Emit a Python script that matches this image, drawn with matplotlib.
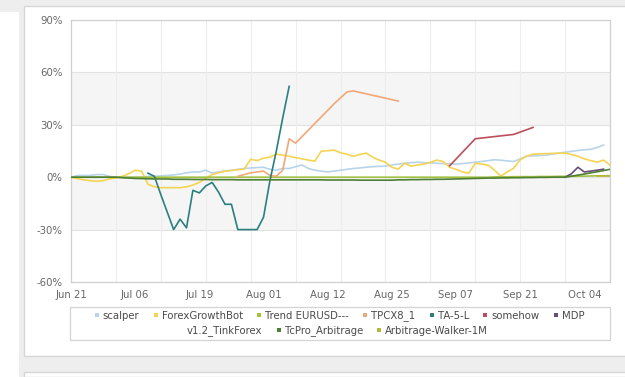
import numpy as np
import matplotlib.pyplot as plt
from matplotlib.lines import Line2D
from matplotlib.patches import Rectangle

# category axis: one point per trading day, labels every 10th day
n_days = 85
tick_labels = ["Jun 21", "Jul 06", "Jul 19", "Aug 01", "Aug 12",
               "Aug 25", "Sep 07", "Sep 21", "Oct 04"]
nan = np.nan

scalper = [0, 1, 1, 1, 1.5, 1.5, 0.5, 0, 0, 0, 0, 0, 0.5, 0.5, 0.8, 1, 1.3, 1.8, 2.5, 3,
           3, 4, 2.3, 3, 3.5, 4, 4.5, 5, 5.3, 5.5, 5.7, 4.5, 4, 5, 5, 6, 7, 5, 4, 3.5,
           3, 3.5, 4, 4.5, 5, 5.3, 5.7, 6, 6.2, 6.3, 7, 7.5, 8, 8.3, 8.6, 8.3, 8.2, 8, 7.8, 7.6,
           7.5, 7.8, 8.2, 8.6, 9, 9.5, 10, 9.7, 9.3, 9, 10.5, 12, 12.2, 12.4, 12.6, 13.2, 13.8, 14.3, 14.8, 15.3,
           15.7, 16, 17, 18.4, nan]

forex_growth = [0, -0.8, -1.5, -2, -2.3, -2, -1, -0.5, 0.5, 2, 4, 3.5, -4, -5.5, -6, -6, -6, -6, -5.5, -4.5,
                -3, -0.6, 1.5, 2.5, 3.4, 3.8, 4.3, 4.6, 10.3, 9.5, 10.9, 11.5, 13.2, 12.6, 12, 11.2, 10.5, 9.8, 9.2, 14.9,
                15.2, 15.5, 14, 13.2, 12, 13, 13.8, 11.5, 9.8, 8.6, 5.7, 4.6, 8, 6.3, 7, 7.5, 8.5, 9.8, 9, 5.7,
                4.5, 3, 2.3, 8, 7.5, 6.9, 4, 0.6, 3, 5.2, 10, 12, 13.2, 13.3, 13.5, 13.6, 13.7, 13.8, 13, 12,
                10.5, 9.5, 8.6, 9.8, 6.9]

trend_eurusd = [0, 0, 0, 0, 0, 0, 0, 0, 0, 0, 0, 0, 0, 0, 0, 0, 0, 0, 0, 0,
                0, 0, 0, 0, 0, 0, 0, 0, 0, 0, 0, 0, 0, 0, 0, 0, 0, 0, 0, 0,
                0, 0, 0, 0, 0, 0, 0, 0, 0, 0, 0, 0, 0, 0, 0, 0, 0, 0, 0, 0,
                0, 0, 0, 0, 0, 0, 0.2, 0.2, 0.2, 0.3, 0.3, 0.3, 0.3, 0.4, 0.4, 0.4, 0.5, 0.5, 0.5, 0.6,
                0.6, 0.7, 0.8, 0.8, 0.9]

tpcx8_1 = [nan] * 26 + [0.5, 1.5, 2.5, 3, 3.5, 1, 0.5, 4, 22, 19.5,
                        nan, nan, nan, nan, nan, 42, nan, 48.8, 49.4, nan,
                        nan, nan, nan, nan, nan, 43.6] + [nan] * 33

ta_5_l = [nan] * 12 + [2.3, 0.5, -10, -20, -30, -24, -29, -7.5, -9, -5,
                       -3, -8.6, -15.5, -15.5, -30, -30, -30, -30, -23, -2,
                       15, 34, 52] + [nan] * 50

somehow = [nan] * 59 + [6.5, nan, nan, nan, 22, nan, nan, nan, nan, nan,
                        24.5, nan, nan, 28.5] + [nan] * 12

mdp = [nan] * 77 + [0, 2, 5.7, 3, 3.5, 4, 4.6, nan]

tcpro_arbitrage = [0, 0, 0, 0, 0, 0, 0, 0, -0.3, -0.5, -0.7, -0.8, -0.9, -1, -1, -1, -1.2, -1.2, -1.2, -1.3,
                   -1.3, -1.3, -1.4, -1.4, -1.4, -1.4, -1.5, -1.5, -1.5, -1.5, -1.5, -1.5, -1.5, -1.5, -1.5, -1.5, -1.5, -1.5, -1.5, -1.5,
                   -1.6, -1.6, -1.6, -1.6, -1.6, -1.7, -1.7, -1.7, -1.7, -1.7, -1.7, -1.5, -1.5, -1.4, -1.4, -1.3, -1.3, -1.2, -1.2, -1.1,
                   -1, -0.9, -0.8, -0.7, -0.6, -0.5, -0.5, -0.4, -0.4, -0.3, -0.3, -0.2, -0.2, -0.1, -0.1, 0, 0, 0, 0.6, 1.2,
                   1.8, 2.5, 3.1, 3.8, 4.5]

walker_1m = [nan] * 82 + [0.5, 0.5, 0.5]

series = [
    ("scalper", scalper, "#b8d4ea"),
    ("ForexGrowthBot", forex_growth, "#f4d452"),
    ("Trend EURUSD---", trend_eurusd, "#a2c040"),
    ("TPCX8_1", tpcx8_1, "#f0a878"),
    ("TA-5-L", ta_5_l, "#2b7f7f"),
    ("somehow", somehow, "#b9505c"),
    ("MDP", mdp, "#6a4c78"),
    ("v1.2_TinkForex", [nan] * n_days, "#ffffff"),
    ("TcPro_Arbitrage", tcpro_arbitrage, "#4f7f35"),
    ("Arbitrage-Walker-1M", walker_1m, "#b5b83a"),
]

fig = plt.figure(figsize=(6.25, 3.77), dpi=100)
fig.patch.set_facecolor("#eeeeee")

# page panels
fig.add_artist(Rectangle((0, 0), 19 / 625, 1 - 12 / 377, transform=fig.transFigure,
                         facecolor="white", edgecolor="none", zorder=0))
fig.add_artist(Rectangle((24 / 625, 1 - 356 / 377), 1, 350 / 377, transform=fig.transFigure,
                         facecolor="white", edgecolor="#d6d6d6", lw=1, zorder=0))
fig.add_artist(Rectangle((24 / 625, 0), 1, 5 / 377, transform=fig.transFigure,
                         facecolor="white", edgecolor="#d6d6d6", lw=1, zorder=0))

ax = fig.add_axes([71 / 625, 1 - 282 / 377, 539 / 625, 262 / 377])
ax.set_facecolor("white")

# bands and grid
for lo, hi in [(30, 60), (-30, 0)]:
    ax.axhspan(lo, hi, color="#f5f5f5", zorder=0, lw=0)
for y in range(-60, 91, 30):
    ax.axhline(y, color="#e2e2e2", lw=0.8, zorder=1)
for x in range(7, n_days, 7):
    ax.axvline(x, color="#ededed", lw=0.8, zorder=1)

x_all = np.arange(n_days)
for name, vals, color in series:
    v = np.array(vals, dtype=float)
    ok = ~np.isnan(v)
    if ok.any():
        ax.plot(x_all[ok], v[ok], color=color, lw=1.2, zorder=3)

ax.set_xlim(0, n_days - 1)
ax.set_ylim(-60, 90)
ax.set_yticks(range(-60, 91, 30))
ax.set_yticklabels([f"{t}%" for t in range(-60, 91, 30)])
ax.set_xticks(range(0, n_days, 10))
ax.set_xticklabels(tick_labels)
ax.tick_params(length=0, labelsize=7.3, colors="#666666", pad=6)
for s in ax.spines.values():
    s.set_color("#d0d0d0")
    s.set_linewidth(0.9)

# legend box
fig.add_artist(Rectangle((70 / 625, 1 - 340 / 377), 540 / 625, 33 / 377, transform=fig.transFigure,
                         facecolor="white", edgecolor="#d4d4d4", lw=0.9, zorder=2))

def handles(items):
    return [Line2D([], [], marker="s", markersize=3, linestyle="none",
                   color=c, markeredgewidth=0) for _, _, c in items]

row1 = series[:7]
row2 = series[7:]
leg1 = fig.legend(handles(row1), [s[0] for s in row1], loc="center",
                  bbox_to_anchor=(339 / 625, 1 - 316 / 377), ncol=7, frameon=False,
                  fontsize=7.3, handlelength=0.6, handletextpad=0.3, columnspacing=1.3,
                  labelcolor="#4a4a4a", borderpad=0)
leg2 = fig.legend(handles(row2), [s[0] for s in row2], loc="center",
                  bbox_to_anchor=(333 / 625, 1 - 331 / 377), ncol=3, frameon=False,
                  fontsize=7.3, handlelength=0.6, handletextpad=0.3, columnspacing=1.3,
                  labelcolor="#4a4a4a", borderpad=0)
leg1.set_zorder(5)
leg2.set_zorder(5)

fig.savefig("out.png", dpi=100, facecolor=fig.get_facecolor())
